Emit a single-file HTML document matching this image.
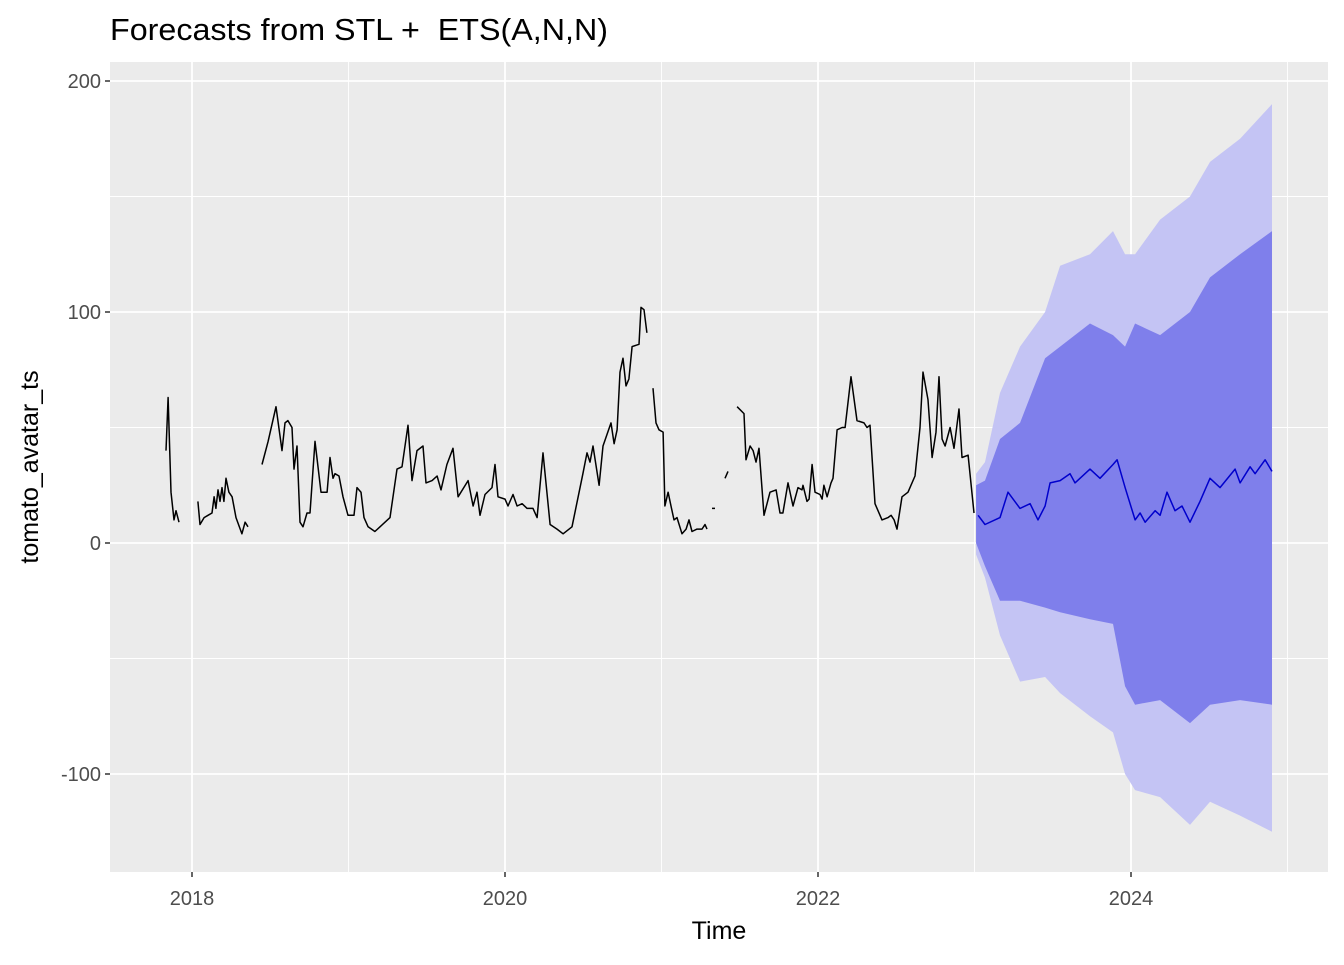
<!DOCTYPE html>
<html><head><meta charset="utf-8"><style>
body{margin:0;background:#fff;}
svg text{font-family:"Liberation Sans",sans-serif;}
</style></head><body>
<svg id="chart" width="1344" height="960"></svg>
<script>
const histTimes=[2017.834,2017.847,2017.866,2017.885,2017.898,2017.917,null,
2018.038,2018.051,2018.077,2018.102,2018.128,2018.141,2018.153,2018.166,2018.179,2018.192,2018.204,2018.217,2018.236,2018.256,2018.281,2018.319,2018.339,2018.358,null,
2018.447,2018.486,2018.537,2018.575,2018.594,2018.613,2018.639,2018.652,2018.671,2018.690,2018.709,2018.735,2018.754,2018.786,2018.824,2018.863,2018.882,2018.901,2018.914,2018.939,2018.965,2018.997,2019.035,2019.054,2019.080,2019.099,2019.125,2019.169,2019.201,2019.233,2019.265,2019.310,2019.342,2019.380,2019.406,2019.438,2019.476,2019.495,2019.534,2019.566,2019.591,2019.629,2019.668,2019.700,2019.764,2019.796,2019.821,2019.840,2019.872,2019.917,2019.936,2019.955,2020.000,2020.019,2020.051,2020.077,2020.109,2020.141,2020.179,2020.205,2020.243,2020.288,2020.332,2020.371,2020.428,2020.498,2020.524,2020.543,2020.562,2020.601,2020.626,2020.677,2020.697,2020.716,2020.735,2020.754,2020.773,2020.792,2020.812,2020.856,2020.869,2020.888,2020.907,null,
2020.946,2020.965,2020.984,2021.010,2021.022,2021.042,2021.061,2021.080,2021.099,2021.131,2021.157,2021.176,2021.195,2021.227,2021.259,2021.278,2021.291,null,
2021.323,2021.342,null,2021.406,2021.425,null,
2021.483,2021.527,2021.540,2021.566,2021.585,2021.604,2021.623,2021.655,2021.693,2021.732,2021.757,2021.776,2021.808,2021.840,2021.872,2021.898,2021.904,2021.930,2021.943,2021.962,2021.981,2022.013,2022.026,2022.038,2022.058,2022.083,2022.096,2022.122,2022.154,2022.173,2022.211,2022.249,2022.294,2022.313,2022.332,2022.364,2022.409,2022.447,2022.467,2022.486,2022.505,2022.537,2022.575,2022.620,2022.652,2022.671,2022.703,2022.729,2022.754,2022.773,2022.793,2022.812,2022.844,2022.869,2022.901,2022.920,2022.959,2022.997];
const histValues=[40,63,22,10,14,9,null,
18,8,11,12,13,20,15,23,18,24,18,28,22,20,11,4,9,7,null,
34,44,59,40,52,53,50,32,42,9,7,13,13,44,22,22,37,28,30,29,20,12,12,24,22,11,7,5,7,9,11,32,33,51,27,40,42,26,27,29,23,34,41,20,27,16,22,12,21,24,34,20,19,16,21,16,17,15,15,11,39,8,6,4,7,30,39,35,42,25,42,52,43,49,74,80,68,71,85,86,102,101,91,null,
67,52,49,48,16,22,16,10,11,4,6,10,5,6,6,8,6,null,
15,15,null,28,31,null,
59,56,36,42,40,35,41,12,22,23,13,13,26,16,24,23,25,18,19,34,22,21,19,25,20,26,28,49,50,50,72,53,52,50,51,17,10,11,12,10,6,20,22,29,50,74,62,37,48,72,45,42,50,41,58,37,38,13];
const fcTimes=[2023.023,2023.067,2023.163,2023.214,2023.291,2023.355,2023.406,2023.451,2023.483,2023.547,2023.610,2023.642,2023.738,2023.802,2023.885,2023.911,2023.962,2024.026,2024.058,2024.090,2024.154,2024.186,2024.230,2024.281,2024.326,2024.377,2024.441,2024.505,2024.569,2024.665,2024.697,2024.761,2024.793,2024.857,2024.901];
const fcMean=[12,8,11,22,15,17,10,16,26,27,30,26,32,28,34,36,24,10,13,9,14,12,22,14,16,9,18,28,24,32,26,33,30,36,31];
const bandTimes=[2023.010,2023.067,2023.163,2023.291,2023.451,2023.547,2023.738,2023.885,2023.962,2024.026,2024.186,2024.377,2024.505,2024.697,2024.901];
const upper95=[30,35,65,85,100,120,125,135,125,125,140,150,165,175,190];
const upper80=[25,27,45,52,80,85,95,90,85,95,90,100,115,125,135];
const lower80=[0,-10,-25,-25,-28,-30,-33,-35,-62,-70,-68,-78,-70,-68,-70];
const lower95=[-5,-15,-40,-60,-58,-65,-75,-82,-100,-107,-110,-122,-112,-118,-125];
const xTicks=[2018,2020,2022,2024];
const xMinor=[2019,2021,2023,2025];
const yTicks=[200,100,0,-100];
const yMinor=[150,50,-50];

const NS="http://www.w3.org/2000/svg";
const svg=document.getElementById('chart');
const P={l:110,r:1328,t:62,b:872};
const xs=t=>192+(t-2018)*156.5;
const ys=v=>543-v*2.31;
function mk(tag,attrs,parent){const e=document.createElementNS(NS,tag);for(const k in attrs)e.setAttribute(k,attrs[k]);(parent||svg).appendChild(e);return e;}

const bg=mk('rect',{x:P.l,y:P.t,width:P.r-P.l,height:P.b-P.t,fill:'#EBEBEB'});


yMinor.forEach(v=>{const l=mk('line',{x1:P.l,x2:P.r,y1:ys(v),y2:ys(v),stroke:'#fff','stroke-width':0.9});

});
xMinor.forEach(t=>{const l=mk('line',{x1:xs(t),x2:xs(t),y1:P.t,y2:P.b,stroke:'#fff','stroke-width':0.9});

});
yTicks.forEach(v=>{const l=mk('line',{x1:P.l,x2:P.r,y1:ys(v),y2:ys(v),stroke:'#fff','stroke-width':1.8});


const tk=mk('line',{x1:P.l-5,x2:P.l,y1:ys(v),y2:ys(v),stroke:'#333','stroke-width':1.5});


const tx=mk('text',{x:P.l-9,y:ys(v)+7,'text-anchor':'end','font-size':20,fill:'#4D4D4D'});tx.textContent=v;

});
xTicks.forEach(t=>{const l=mk('line',{x1:xs(t),x2:xs(t),y1:P.t,y2:P.b,stroke:'#fff','stroke-width':1.8});


const tk=mk('line',{x1:xs(t),x2:xs(t),y1:P.b,y2:P.b+5,stroke:'#333','stroke-width':1.5});


const tx=mk('text',{x:xs(t),y:P.b+33,'text-anchor':'middle','font-size':20,fill:'#4D4D4D'});tx.textContent=t;

});

function band(up,lo,color,name){let d='';bandTimes.forEach((t,i)=>{d+=(i?'L':'M')+xs(t)+','+ys(up[i]);});
for(let i=bandTimes.length-1;i>=0;i--)d+='L'+xs(bandTimes[i])+','+ys(lo[i]);
const p=mk('path',{d:d+'Z',fill:color});

}
band(upper95,lower95,'#C4C4F4','interval-95');
band(upper80,lower80,'#7F7FEB','interval-80');

function line(ts,vs,color,w,name){let d='',pen=false;ts.forEach((t,i)=>{const v=vs[i];if(t===null||v===null){pen=false;return;}d+=(pen?'L':'M')+xs(t).toFixed(1)+','+ys(v).toFixed(1);pen=true;});
const p=mk('path',{d:d,fill:'none',stroke:color,'stroke-width':w,'stroke-linejoin':'round'});

}
line(histTimes,histValues,'#000',1.5,'observed-series');
line(fcTimes,fcMean,'#0000CC',1.5,'forecast-mean-line');

const title=mk('text',{x:110,y:40,'font-size':31,fill:'#000',textLength:498,lengthAdjust:'spacingAndGlyphs',style:'white-space:pre'});title.textContent='Forecasts from STL +  ETS(A,N,N)';


const xt=mk('text',{x:719,y:939,'text-anchor':'middle','font-size':25,fill:'#000'});xt.textContent='Time';


const yt=mk('text',{x:0,y:0,transform:'translate(38,467) rotate(-90)','text-anchor':'middle','font-size':25,fill:'#000'});yt.textContent='tomato_avatar_ts';


</script>
</body></html>
